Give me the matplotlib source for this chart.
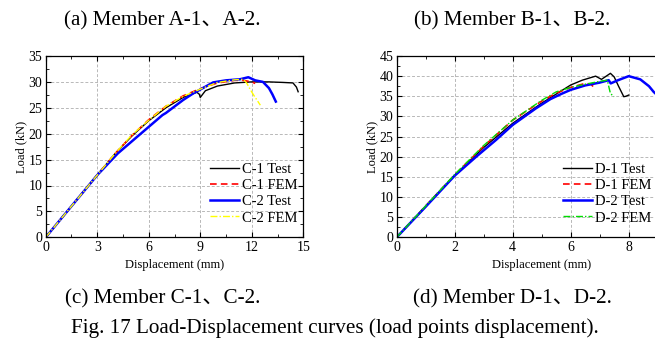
import numpy as np
import matplotlib.pyplot as plt
from matplotlib.ticker import MultipleLocator, FuncFormatter

# ---------------------------------------------------------------
# Data

# member C
c1_test_x = [0, 1, 2, 3, 4, 5, 6, 7, 8, 8.8, 8.95, 9.0, 9.3, 10.0, 11.0, 12.0, 13.0, 13.8, 14.4, 14.6, 14.7]
c1_test_y = [0, 4.0, 8.0, 12.0, 16.0, 19.5, 22.5, 25.0, 27.0, 28.0, 27.6, 27.0, 28.3, 29.2, 29.8, 30.0, 30.0, 29.9, 29.8, 29.0, 28.1]
c1_fem_x = [0, 1, 2, 3, 4, 5, 6, 7, 8, 9, 10, 11, 11.5, 12.0, 12.2]
c1_fem_y = [0, 4.0, 8.0, 12.0, 16.0, 19.6, 22.7, 25.3, 27.3, 28.7, 29.8, 30.3, 30.3, 30.0, 29.7]
c2_test_x = [0, 1, 2, 3, 4.2, 5.5, 6.8, 7.0, 8.0, 8.6, 9.75, 10.5, 11.3, 11.8, 12.2, 12.65, 13.0, 13.2, 13.4]
c2_test_y = [0, 4.0, 8.0, 12.0, 16.2, 19.9, 23.6, 24.0, 26.5, 27.8, 29.9, 30.3, 30.5, 30.9, 30.3, 30.0, 28.8, 27.6, 26.2]
c2_fem_x = [0, 1, 2, 3, 4, 5, 6, 7, 8, 9, 10, 11, 11.5, 11.7, 11.9, 12.1, 12.5]
c2_fem_y = [0, 4.0, 8.0, 12.0, 16.0, 19.7, 22.6, 25.3, 27.2, 28.6, 29.9, 30.4, 30.5, 29.8, 28.6, 27.5, 25.5]

# member D
d1_test_x = [0, 1, 2, 3, 4, 5, 6, 6.4, 6.86, 7.06, 7.37, 7.5, 7.65, 7.83, 7.9, 8.0]
d1_test_y = [0, 7.6, 15.4, 22.3, 28.3, 33.3, 37.8, 39.0, 40.0, 39.2, 40.7, 39.8, 37.5, 34.9, 35.0, 35.3]
d1_fem_x = [0, 1, 2, 3, 4, 5, 5.5, 6, 6.5, 6.7, 6.8]
d1_fem_y = [0, 7.8, 15.5, 22.6, 29.1, 33.8, 35.8, 37.2, 38.2, 38.0, 37.2]
d2_test_x = [0, 1, 2, 2.74, 3.43, 4.0, 4.8, 5.3, 5.71, 6.0, 6.5, 7.0, 7.31, 7.38, 7.6, 8.0, 8.4, 8.7, 8.86, 9.1]
d2_test_y = [0, 7.6, 15.3, 20.0, 24.2, 27.9, 32.0, 34.3, 35.7, 36.6, 37.7, 38.4, 39.0, 38.2, 38.9, 40.0, 39.2, 37.5, 36.1, 34.5]
d2_fem_x = [0, 1, 2, 3, 4, 5, 5.5, 6, 6.5, 7.0, 7.26, 7.37, 7.49]
d2_fem_y = [0, 7.8, 15.6, 22.8, 29.1, 34.0, 36.1, 37.2, 38.0, 38.7, 39.0, 35.7, 34.9]

top_captions = ["(a) Member A-1\u3001A-2.", "(b) Member B-1\u3001B-2."]
bottom_captions = ["(c) Member C-1\u3001C-2.", "(d) Member D-1\u3001D-2."]
fig_caption = "Fig. 17 Load-Displacement curves (load points displacement)."

# ---------------------------------------------------------------
# Figure

W, H = 655, 341
fig = plt.figure(figsize=(W / 100, H / 100), dpi=100)

serif = ['Liberation Serif', 'Noto Sans CJK SC', 'DejaVu Serif']
plt.rcParams['font.family'] = serif


def px_axes(x0, x1, y0, y1):
    # pixel box (top-left origin) -> figure fraction
    return fig.add_axes([x0 / W, 1 - y1 / H, (x1 - x0) / W, (y1 - y0) / H])


def style(ax, xmaj, xmin, ymaj, ymin):
    ax.xaxis.set_major_locator(MultipleLocator(xmaj))
    ax.xaxis.set_minor_locator(MultipleLocator(xmin))
    ax.yaxis.set_major_locator(MultipleLocator(ymaj))
    ax.yaxis.set_minor_locator(MultipleLocator(ymin))
    ax.tick_params(which='both', direction='in', top=True, right=True, labelsize=10, pad=2.5)
    ax.tick_params(which='major', length=3.5, width=0.8)
    ax.tick_params(which='minor', length=2, width=0.6)
    ax.grid(True, which='major', linestyle=(0, (3, 2)), color='#b8b8b8', linewidth=0.7)
    ax.set_axisbelow(True)
    ax.set_xlabel("Displacement (mm)", fontsize=9, labelpad=3.5)
    ax.set_ylabel("Load (kN)", fontsize=9, labelpad=1)
    for s in ax.spines.values():
        s.set_linewidth(0.9)


leg_kw = dict(loc='upper left', frameon=False, fontsize=10.5, handlelength=2.0,
              handletextpad=0.2, labelspacing=0.2, borderpad=0, borderaxespad=0)

# left panel: member C
ax1 = px_axes(45.7, 303.3, 56, 237.3)
ax1.plot(c1_test_x, c1_test_y, color='black', lw=1.0, label='C-1 Test')
ax1.plot(c1_fem_x, c1_fem_y, color='red', lw=1.2, ls=(0, (4, 2.5)), label='C-1 FEM')
ax1.plot(c2_test_x, c2_test_y, color='blue', lw=1.8, label='C-2 Test')
ax1.plot(c2_fem_x, c2_fem_y, color='yellow', lw=1.0, ls=(0, (5, 1.5, 1, 1.5)), label='C-2 FEM')
ax1.set_xlim(0, 15)
ax1.set_ylim(0, 35)
style(ax1, 3, 1.5, 5, 2.5)
ax1.legend(bbox_to_anchor=(0.638, 0.41), **leg_kw)

# right panel: member D (runs off the right edge in the reference)
ax2 = px_axes(396.7, 686.7, 56, 237.3)
ax2.plot(d1_test_x, d1_test_y, color='black', lw=1.0, label='D-1 Test')
ax2.plot(d1_fem_x, d1_fem_y, color='red', lw=1.2, ls=(0, (4, 2.5)), label='D-1 FEM')
ax2.plot(d2_test_x, d2_test_y, color='blue', lw=1.8, label='D-2 Test')
ax2.plot(d2_fem_x, d2_fem_y, color='#00dd00', lw=1.0, ls=(0, (5, 1.5, 1, 1.5)), label='D-2 FEM')
ax2.set_xlim(0, 10)
ax2.set_ylim(0, 45)
style(ax2, 2, 1, 5, 2.5)
ax2.xaxis.set_major_formatter(FuncFormatter(lambda v, p: '' if v > 9 else f'{v:g}'))
ax2.legend(bbox_to_anchor=(0.573, 0.41), **leg_kw)

# captions
cap_kw = dict(ha='left', va='baseline', fontsize=15.2, family=serif)
fig.text(64 / W, 1 - 25 / H, top_captions[0], **cap_kw)
fig.text(414 / W, 1 - 25 / H, top_captions[1], **cap_kw)
fig.text(65 / W, 1 - 303 / H, bottom_captions[0], **cap_kw)
fig.text(413 / W, 1 - 303 / H, bottom_captions[1], **cap_kw)
fig.text(335 / W, 1 - 333 / H, fig_caption, ha='center', va='baseline', fontsize=15.2, family=serif)

fig.savefig('out.png', dpi=100)
